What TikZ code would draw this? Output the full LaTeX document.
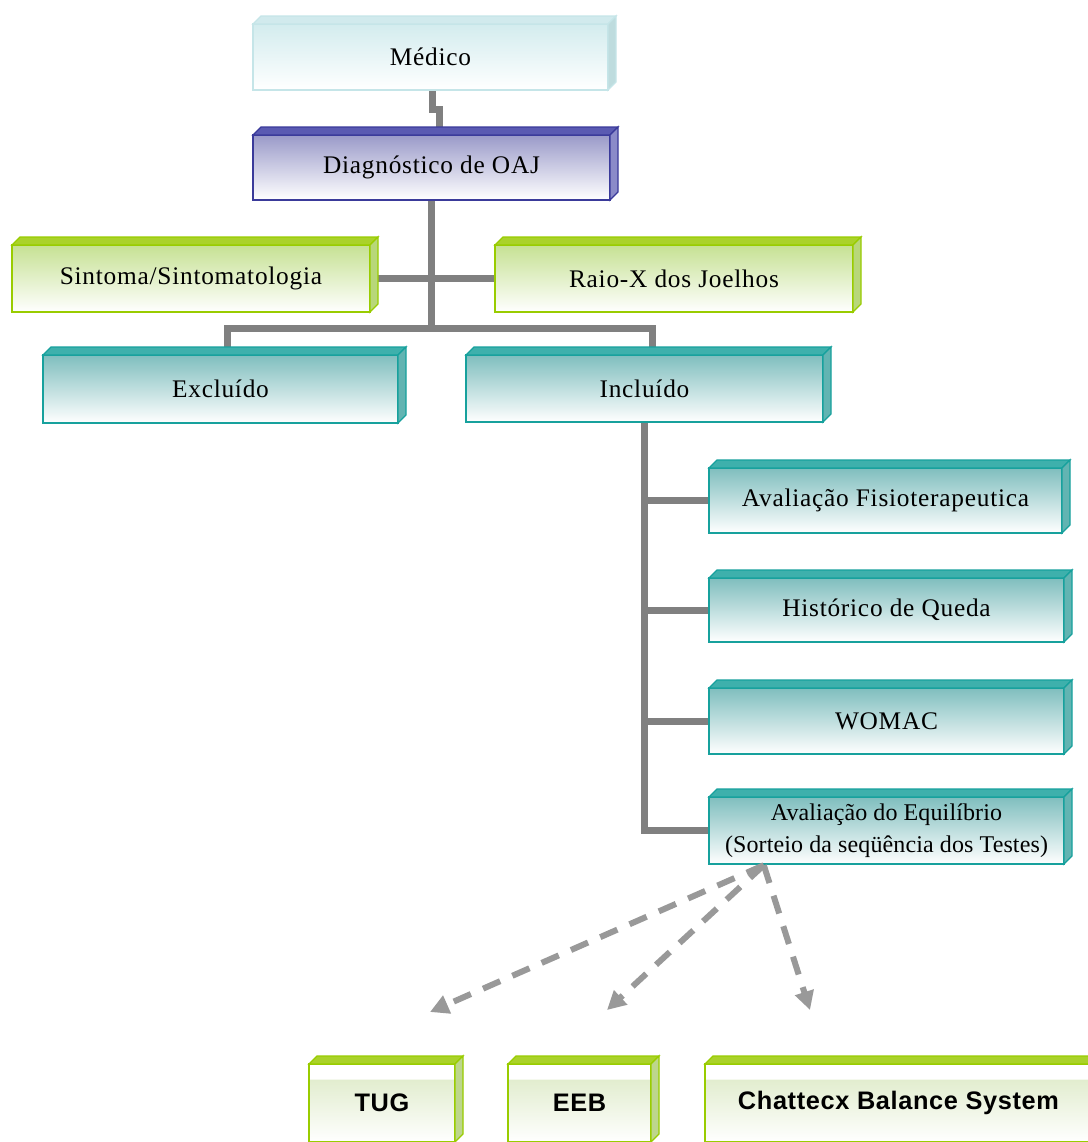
\documentclass[tikz,border=0pt]{standalone}
\usepackage{fontspec}
\setmainfont{Liberation Serif}[LetterSpace=3]
\newfontfamily\hsans{Liberation Sans}[LetterSpace=2.5]
\newfontfamily\tightserif{Liberation Serif}[LetterSpace=0.5]
\usetikzlibrary{arrows.meta,calc,backgrounds}
\definecolor{cyanE}{HTML}{C5E5E8}
\definecolor{cyanT}{HTML}{D3ECEE}
\definecolor{cyanS}{HTML}{BEDCDE}
\definecolor{blueE}{HTML}{3A3A9A}
\definecolor{blueT}{HTML}{9A9AC9}
\definecolor{blueF}{HTML}{5A5AB2}
\definecolor{greenE}{HTML}{99CC00}
\definecolor{greenT}{HTML}{C6E193}
\definecolor{greenF}{HTML}{AAD22A}
\definecolor{greenS}{HTML}{B8D77A}
\definecolor{tealE}{HTML}{17A19D}
\definecolor{tealT}{HTML}{7FBEBE}
\definecolor{tealF}{HTML}{3EB0AC}
\definecolor{tealS}{HTML}{62B4B2}
\definecolor{lowG}{HTML}{E2EDCF}
\definecolor{lowS}{HTML}{BDD68C}
\definecolor{connC}{HTML}{808080}
\definecolor{dashC}{HTML}{999999}
\pgfdeclareverticalshading{gband}{100bp}{color(0bp)=(white); color(25bp)=(white); color(65bp)=(lowG); color(65.6bp)=(white); color(100bp)=(white)}
\newcommand\tbox[7]{%
  \node[#6, minimum width={(#4-#2)*0.75pt}, minimum height={(#5-#3)*0.75pt}, inner sep=0pt] (#1) at ({(#2+#4)/2},{(#3+#5)/2}) {#7};
  \filldraw[#6 top] (#2,#3) -- ++(8,-8) -- (#4+8,#3-8) -- (#4,#3) -- cycle;
  \filldraw[#6 side] (#4,#3) -- (#4+8,#3-8) -- (#4+8,#5-8) -- (#4,#5) -- cycle;
}
\tikzset{
  lbl/.style={font=\fontsize{19}{24}\selectfont, text=black, align=center},
  cyanbox/.style={lbl, draw=cyanE, line width=1.8pt, top color=cyanT, bottom color=white},
  cyanbox top/.style={draw=cyanE, line width=1pt, fill=cyanE!80!white},
  cyanbox side/.style={draw=cyanE, line width=1pt, fill=cyanS},
  bluebox/.style={lbl, draw=blueE, line width=1.8pt, top color=blueT, bottom color=white},
  bluebox top/.style={draw=blueE, line width=1pt, fill=blueF},
  bluebox side/.style={draw=blueE, line width=1pt, fill=blueF!70!white},
  greenbox/.style={lbl, draw=greenE, line width=1.8pt, top color=greenT, bottom color=white},
  greenbox top/.style={draw=greenE, line width=1pt, fill=greenF},
  greenbox side/.style={draw=greenE, line width=1pt, fill=greenS},
  tealbox/.style={lbl, draw=tealE, line width=1.8pt, top color=tealT, bottom color=white},
  tealbox top/.style={draw=tealE, line width=1pt, fill=tealF},
  tealbox side/.style={draw=tealE, line width=1pt, fill=tealS},
  tealtwo/.style={tealbox, font=\tightserif\fontsize{18}{24}\selectfont},
  tealtwo top/.style={tealbox top},
  tealtwo side/.style={tealbox side},
  lowbox/.style={font=\hsans\bfseries\fontsize{19}{24}\selectfont, text=black, draw=greenE, line width=1.8pt, shading=gband},
  lowbox top/.style={draw=greenE, line width=1pt, fill=greenF},
  lowbox side/.style={draw=greenE, line width=1pt, fill=lowS},
  conn/.style={draw=connC, line width=5.25pt},
  darrow/.style={draw=dashC, line width=4.5pt, dash pattern=on 14pt off 10pt, -{Triangle[length=14pt,width=14pt]}}
}
\begin{document}
\begin{tikzpicture}[x=0.75pt,y=-0.75pt]
\useasboundingbox (0,0) rectangle (1088,1142);
\clip (0,0) rectangle (1088,1142);

\tbox{medico}{253}{24}{608}{90}{cyanbox}{Médico}
\tbox{diag}{253}{135}{610}{200}{bluebox}{Diagnóstico de OAJ}
\tbox{sint}{12}{245}{370}{312}{greenbox}{Sintoma/Sintomatologia}
\tbox{raio}{495}{245}{853}{312}{greenbox}{Raio-X dos Joelhos}
\tbox{excl}{43}{355}{398}{423}{tealbox}{Excluído}
\tbox{incl}{466}{355}{823}{422}{tealbox}{Incluído}
\tbox{fisio}{709}{468}{1062}{533}{tealbox}{Avaliação Fisioterapeutica}
\tbox{hist}{709}{578}{1064}{642}{tealbox}{Histórico de Queda}
\tbox{womac}{709}{688}{1064}{754}{tealbox}{WOMAC}
\tbox{equil}{709}{797}{1064}{864}{tealtwo}{Avaliação do Equilíbrio\\(Sorteio da seqüência dos Testes)}
\tbox{tug}{309}{1064}{455}{1142}{lowbox}{TUG}
\tbox{eeb}{508}{1064}{651}{1142}{lowbox}{EEB}
\tbox{chat}{705}{1064}{1092}{1142}{lowbox}{Chattecx Balance System}

\coordinate (j1) at (431.5,328);
\coordinate (ds) at ($(equil.south west)+(56,0)$);
\coordinate (tugA) at (430,1012);
\coordinate (eebA) at (607,1010);
\coordinate (chatA) at (810,1010);

\begin{scope}[on background layer]
  \fill[white] (0,0) rectangle (1088,1142);
  \draw[conn] ($(medico.south)+(2,0)$) -- ++(0,18) -| ($(diag.north)+(8,0)$);
  \draw[conn] (diag.south) -- (j1);
  \draw[conn] (sint.east) -- (raio.west);
  \draw[conn] ($(excl.north)+(7,0)$) |- (j1) -| ($(incl.north)+(8,0)$);
  \draw[conn] (incl.south) |- (equil.west);
  \foreach \n in {fisio,hist,womac} \draw[conn] (incl.south |- \n.west) -- (\n.west);
\end{scope}

\draw[darrow] (ds) -- (tugA);
\draw[darrow] (ds) -- (eebA);
\draw[darrow] (ds) -- (chatA);
\end{tikzpicture}
\end{document}
